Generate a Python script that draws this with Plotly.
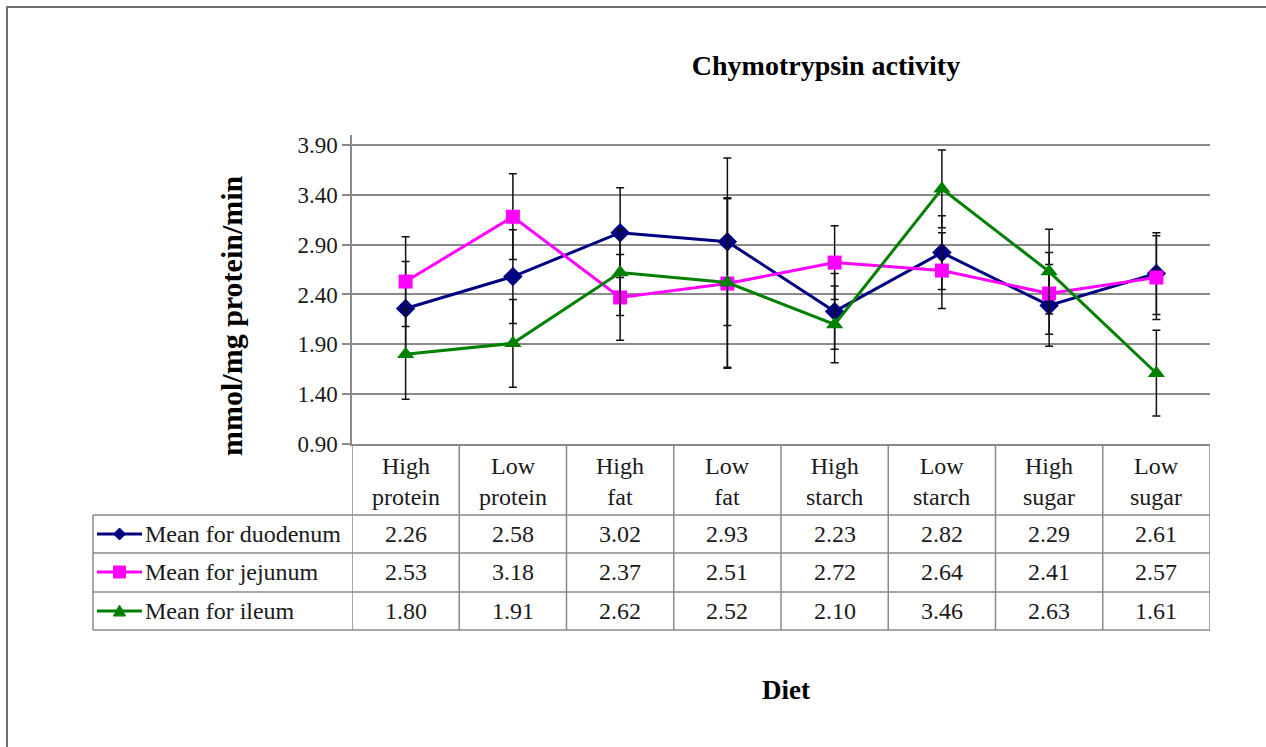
import plotly.graph_objects as go

# Diet groups and mean chymotrypsin activity per gut segment
diets = ["High protein", "Low protein", "High fat", "Low fat",
         "High starch", "Low starch", "High sugar", "Low sugar"]
duodenum = [2.26, 2.58, 3.02, 2.93, 2.23, 2.82, 2.29, 2.61]
jejunum = [2.53, 3.18, 2.37, 2.51, 2.72, 2.64, 2.41, 2.57]
ileum = [1.80, 1.91, 2.62, 2.52, 2.10, 3.46, 2.63, 1.61]

# Standard deviations shown as error bars
duodenum_sd = [0.47, 0.47, 0.45, 0.84, 0.38, 0.37, 0.41, 0.41]
jejunum_sd = [0.45, 0.43, 0.43, 0.85, 0.37, 0.38, 0.41, 0.42]
ileum_sd = [0.45, 0.44, 0.43, 0.85, 0.385, 0.39, 0.425, 0.43]

y_ticks = [0.90, 1.40, 1.90, 2.40, 2.90, 3.40, 3.90]

series = [
    ("Mean for duodenum", duodenum, duodenum_sd, "#000080", "diamond", 15),
    ("Mean for jejunum", jejunum, jejunum_sd, "#ff00ff", "square", 14),
    ("Mean for ileum", ileum, ileum_sd, "#008000", "triangle-up", 15),
]

# Small marker outlines (pixel offsets) for the key column of the table
key_paths = {
    "diamond": "M -6 0 L 0 6 L 6 0 L 0 -6 Z",
    "square": "M -6 -6 L 6 -6 L 6 6 L -6 6 Z",
    "triangle-up": "M -6 -5 L 6 -5 L 0 6 Z",
}

# Page geometry (pixels)
W, H = 1266, 747
L, R, T, B = 352, 56, 135, 303
PW, PH = W - L - R, H - T - B
PLOT_BOTTOM = H - B


def px(x):
    return (x - L) / PW


def py(y):
    return (PLOT_BOTTOM - y) / PH


SERIF = "Liberation Serif"
GRID = "#8a8a8a"
TXT = "#1a1a1a"

fig = go.Figure()
for name, vals, sd, color, symbol, size in series:
    fig.add_trace(go.Scatter(
        x=diets, y=vals, name=name, mode="lines+markers",
        line=dict(color=color, width=3),
        marker=dict(symbol=symbol, size=size, color=color),
        error_y=dict(type="data", array=sd, visible=True,
                     color="#111111", thickness=1.5, width=4),
    ))

shapes = []
annotations = []

# Data table beneath the plot: row boundaries
row_lines = [515, 553, 592, 630]
for yy in row_lines:
    shapes.append(dict(type="line", xref="paper", yref="paper",
                       x0=px(93), x1=1.0, y0=py(yy), y1=py(yy),
                       line=dict(color=GRID, width=1.5)))
# Column boundaries between diets
for k in range(len(diets) + 1):
    shapes.append(dict(type="line", xref="x", yref="paper",
                       x0=k - 0.5, x1=k - 0.5, y0=py(630), y1=0,
                       line=dict(color=GRID, width=1.5)))
# Left edge of the key column
shapes.append(dict(type="line", xref="paper", yref="paper",
                   x0=px(93), x1=px(93), y0=py(630), y1=py(515),
                   line=dict(color=GRID, width=1.5)))

# Outer frame
shapes.append(dict(type="rect", xref="paper", yref="paper",
                   x0=px(7), x1=px(1300), y0=py(7), y1=py(760),
                   line=dict(color="#6e6e6e", width=2)))

# Header cells with the diet names
for d in diets:
    annotations.append(dict(
        x=d, xref="x", y=py(481), yref="paper",
        text="<br>".join(d.split(" ")), showarrow=False,
        font=dict(family=SERIF, size=24, color=TXT),
        xanchor="center", yanchor="middle"))

# Key column (series symbol + name) and value cells
row_centres = [534, 572, 611]
for (name, vals, sd, color, symbol, size), yc in zip(series, row_centres):
    shapes.append(dict(type="line", xref="paper", yref="paper",
                       x0=px(97), x1=px(142), y0=py(yc), y1=py(yc),
                       line=dict(color=color, width=3)))
    shapes.append(dict(type="path", xref="paper", yref="paper",
                       xsizemode="pixel", ysizemode="pixel",
                       xanchor=px(119.5), yanchor=py(yc),
                       path=key_paths[symbol], fillcolor=color,
                       line=dict(color=color, width=1)))
    annotations.append(dict(
        x=px(143), y=py(yc), xref="paper", yref="paper",
        text=name, showarrow=False,
        font=dict(family=SERIF, size=24, color=TXT),
        xanchor="left", yanchor="middle"))
    for d, v in zip(diets, vals):
        annotations.append(dict(
            x=d, xref="x", y=py(yc), yref="paper",
            text=f"{v:.2f}", showarrow=False,
            font=dict(family=SERIF, size=24, color=TXT),
            xanchor="center", yanchor="middle"))

# Axis titles
annotations.append(dict(
    x=px(231), y=py(316), xref="paper", yref="paper",
    text="<b>mmol/mg protein/min</b>", textangle=-90, showarrow=False,
    font=dict(family=SERIF, size=30, color="#000000"),
    xanchor="center", yanchor="middle"))
annotations.append(dict(
    x=px(786), y=py(690), xref="paper", yref="paper",
    text="<b>Diet</b>", showarrow=False,
    font=dict(family=SERIF, size=27, color="#000000"),
    xanchor="center", yanchor="middle"))

fig.update_layout(
    width=W, height=H,
    margin=dict(l=L, r=R, t=T, b=B, autoexpand=False),
    font=dict(family=SERIF, color=TXT),
    paper_bgcolor="white", plot_bgcolor="white",
    title=dict(text="<b>Chymotrypsin activity</b>",
               font=dict(family=SERIF, size=28, color="#000000"),
               xref="container", yref="container",
               x=826 / W, y=1 - 65 / H, xanchor="center", yanchor="middle"),
    showlegend=False,
    xaxis=dict(type="category", range=[-0.5, len(diets) - 0.5],
               automargin=False,
               showticklabels=False, showgrid=False, zeroline=False,
               showline=True, linecolor=GRID, linewidth=1.5, ticks=""),
    yaxis=dict(range=[0.9, 4.0], tickvals=y_ticks, automargin=False,
               ticktext=[f"{v:.2f}" for v in y_ticks],
               showgrid=True, gridcolor=GRID, gridwidth=1.5,
               zeroline=False, showline=True, linecolor=GRID, linewidth=1.5,
               ticks="outside", ticklen=8, tickcolor=GRID, tickwidth=1.5,
               tickfont=dict(family=SERIF, size=23, color=TXT)),
    shapes=shapes, annotations=annotations,
)

fig.write_html("out.html")
